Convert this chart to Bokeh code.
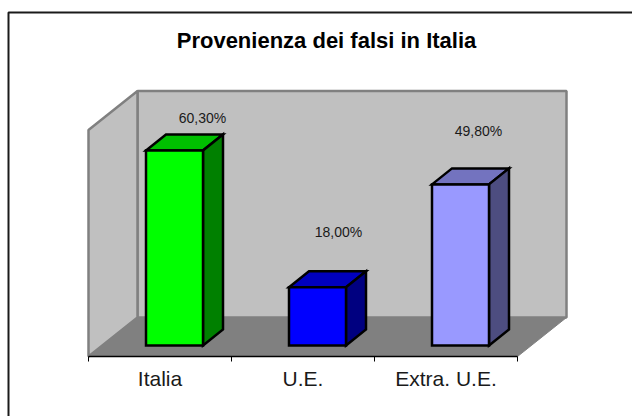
from bokeh.plotting import figure
from bokeh.models import Range1d, LinearAxis, FixedTicker
from bokeh.core.properties import value
from bokeh.embed import file_html
from bokeh.resources import INLINE

title_text = "Provenienza dei falsi in Italia"
categories = ["Italia", "U.E.", "Extra. U.E."]
values = [60.3, 18.0, 49.8]
value_labels = ["60,30%", "18,00%", "49,80%"]
axis_max = 70

front_colors = ["#00FF00", "#0000FF", "#9999FF"]
top_colors = ["#00BF00", "#0000BF", "#7373BF"]
side_colors = ["#008000", "#000080", "#4D4D80"]

W, H = 632, 416
PX_X = 143.0    # pixels per category
PX_Y = 3.235    # pixels per value unit
X0, Y0 = 159.5, 356.0  # pixel of (category 0 centre, value 0) inside the figure

def dx(px): return px / PX_X
def dy(px): return px / PX_Y

p = figure(width=W, height=H, output_backend="svg", toolbar_location=None,
           x_axis_location=None, y_axis_location=None,
           x_range=Range1d(-X0 / PX_X, (W - X0) / PX_X),
           y_range=Range1d(-(H - Y0) / PX_Y, Y0 / PX_Y),
           min_border=0, min_border_left=0, min_border_right=0,
           min_border_top=0, min_border_bottom=0, background_fill_color="white")
p.outline_line_color = None
p.grid.visible = False

xmin, xmax = p.x_range.start, p.x_range.end
ymin, ymax = p.y_range.start, p.y_range.end

# outer chart frame: only its left and top edges fall inside the picture
fx = xmin + dx(8)
fy = ymax - dy(12)
p.line([fx, fx, xmax], [ymin, fy, fy], line_color="#1a1a1a", line_width=2)

# 3D box
left, right = -0.5, len(categories) - 0.5
wd_x, wd_y = dx(49), dy(39)
p.patch([left, left + wd_x, right + wd_x, right], [0, wd_y, wd_y, 0],
        fill_color="#808080", line_color="#808080", line_width=1)
p.patch([left + wd_x, right + wd_x, right + wd_x, left + wd_x],
        [wd_y, wd_y, wd_y + axis_max, wd_y + axis_max],
        fill_color="#C0C0C0", line_color="#808080", line_width=2.5)
p.patch([left, left + wd_x, left + wd_x, left],
        [0, wd_y, wd_y + axis_max, axis_max],
        fill_color="#C0C0C0", line_color="#808080", line_width=2.5)

# bars
base_x, base_y = dx(14.5), dy(11)
half = dx(28.5)
bx, by = dx(20), dy(16)
for i, v in enumerate(values):
    l, r = i + base_x - half, i + base_x + half
    b, t = base_y, base_y + v
    kw = dict(line_color="black", line_width=2.5, line_join="miter")
    p.patch([l, r, r + bx, l + bx], [t, t, t + by, t + by], fill_color=top_colors[i], **kw)
    p.patch([r, r + bx, r + bx, r], [b, b + by, t + by, t], fill_color=side_colors[i], **kw)
    p.patch([l, r, r, l], [b, b, t, t], fill_color=front_colors[i], **kw)

# value labels
label_off_x = [28, 21, 18]
label_off_y = [16, 39, 37]
p.text([i + base_x + dx(label_off_x[i]) for i in range(3)],
       [base_y + values[i] + by + dy(label_off_y[i]) for i in range(3)],
       text=value_labels, text_font=value("Liberation Sans"), text_font_size="14px",
       text_color="#1a1a1a", text_align="center", text_baseline="middle")

# title
p.text([dx(326 - X0)], [dy(Y0 - 40)], text=[title_text],
       text_font=value("Liberation Sans"), text_font_size="22px", text_font_style="bold",
       text_color="black", text_align="center", text_baseline="middle")

# category axis: line and boundary ticks
ax = LinearAxis(fixed_location=0, ticker=FixedTicker(ticks=[-0.5, 0.5, 1.5, 2.5]),
                bounds=(-0.5, 2.5),
                axis_line_color="black", axis_line_width=1.5,
                major_tick_line_color="black", major_tick_line_width=1,
                major_tick_in=0, major_tick_out=5, minor_tick_line_color=None,
                major_label_overrides={-0.5: "", 0.5: "", 1.5: "", 2.5: ""})
p.add_layout(ax, "below")
# category labels
ax2 = LinearAxis(fixed_location=0, ticker=FixedTicker(ticks=[0, 1, 2]),
                 axis_line_color=None, major_tick_line_color=None, minor_tick_line_color=None,
                 major_tick_in=0, major_tick_out=0, major_label_standoff=10,
                 major_label_overrides={i: c for i, c in enumerate(categories)},
                 major_label_text_font="Liberation Sans", major_label_text_font_size="21px",
                 major_label_text_color="#1a1a1a")
p.add_layout(ax2, "below")

open("out.html", "w").write(file_html(p, INLINE))
